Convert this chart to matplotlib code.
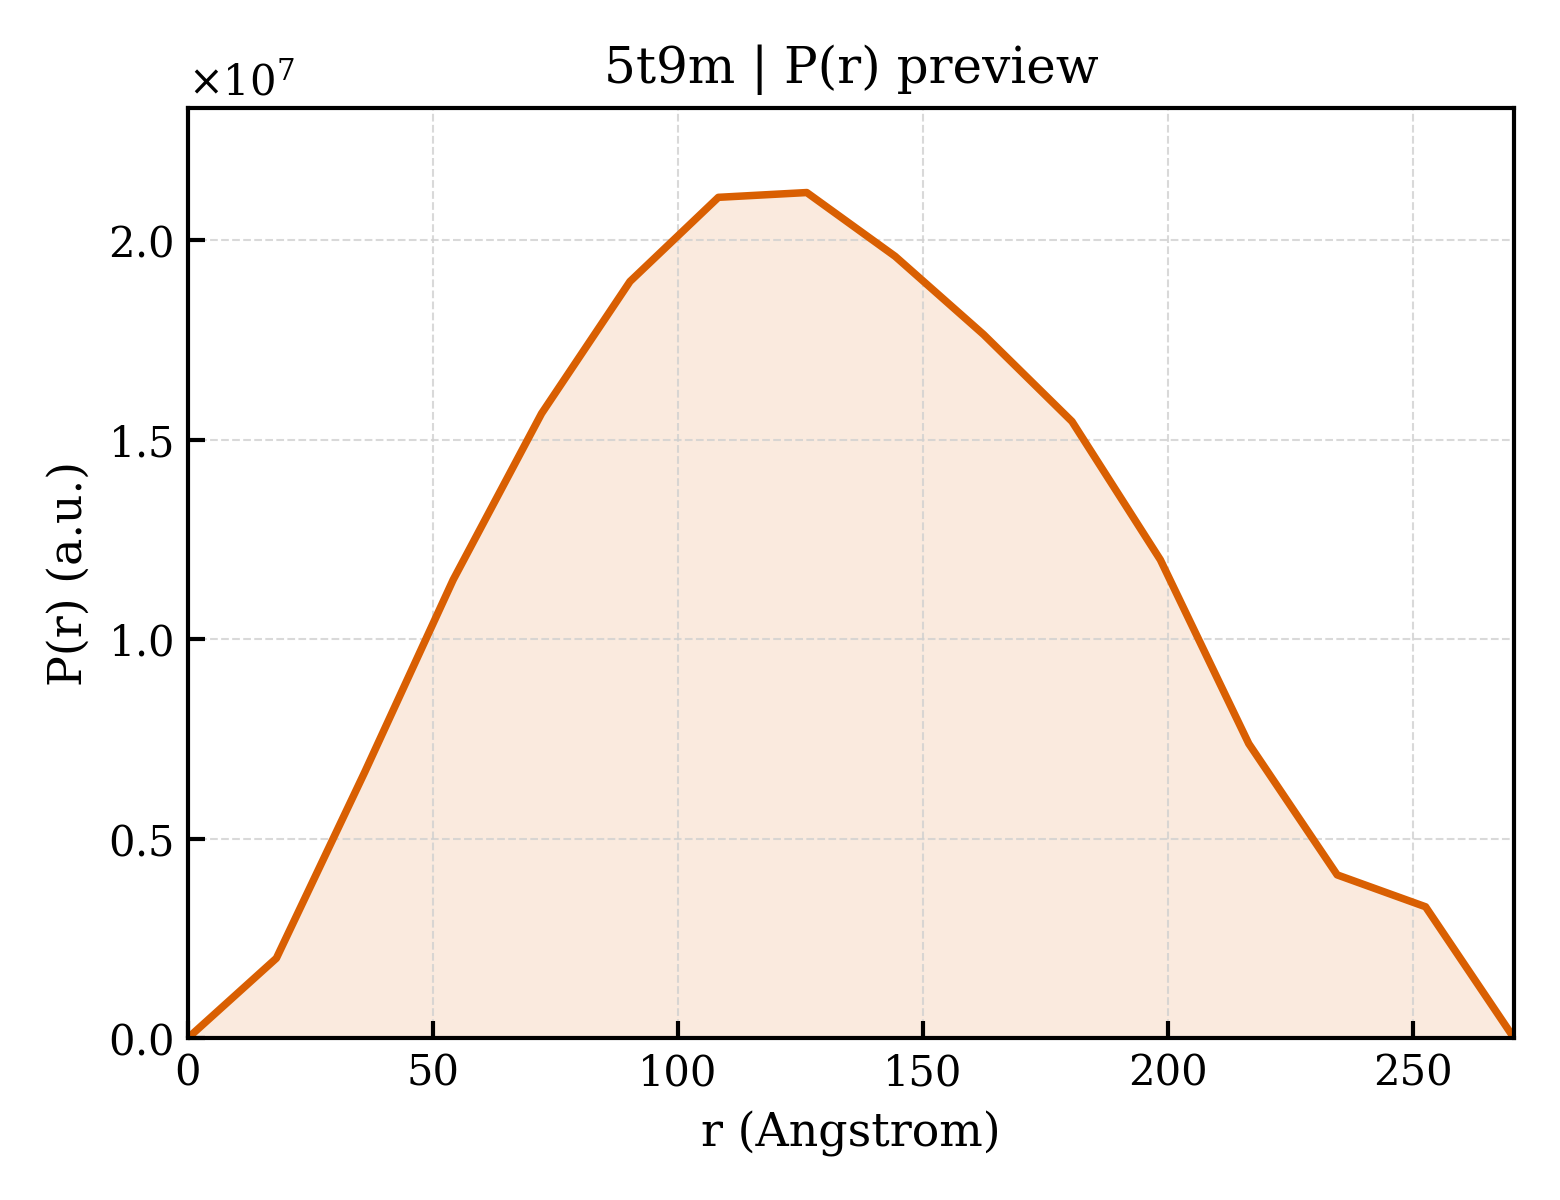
import numpy as np
import matplotlib
matplotlib.use("Agg")
import matplotlib.pyplot as plt

r = [0, 18.04, 36.08, 54.12, 72.16, 90.2, 108.24, 126.28, 144.32, 162.36,
     180.4, 198.44, 216.48, 234.52, 252.56, 270.6]
pr = [0.0, 0.200, 0.667, 1.149, 1.566, 1.897, 2.108, 2.120, 1.960, 1.764,
      1.546, 1.199, 0.738, 0.409, 0.329, 0.0]
pr = [v * 1e7 for v in pr]

plt.rcParams['font.family'] = 'DejaVu Serif'
plt.rcParams['mathtext.fontset'] = 'dejavuserif'

fig, ax = plt.subplots(figsize=(5.2, 4), dpi=300)
col = '#d95f02'
ax.fill_between(r, pr, color=col, alpha=0.13, linewidth=0)
ax.plot(r, pr, color=col, lw=1.8)

ax.set_xlim(0, max(r))
ax.set_ylim(0, max(pr) * 1.1)
ax.set_xlabel('r (Angstrom)', fontsize=11)
ax.set_ylabel('P(r) (a.u.)', fontsize=11)
ax.set_title('5t9m | P(r) preview', fontsize=12)
ax.grid(True, ls='--', lw=0.5, color='#d0d0d0', alpha=0.8)
ax.tick_params(direction='in', labelsize=10, width=1, length=4)
for s in ax.spines.values():
    s.set_linewidth(1)
ax.ticklabel_format(axis='y', style='sci', scilimits=(0, 0), useMathText=True)
ax.yaxis.get_offset_text().set_fontsize(10)

fig.subplots_adjust(left=0.1205, right=0.9705, top=0.91, bottom=0.135)
fig.savefig('out.png', dpi=300)
